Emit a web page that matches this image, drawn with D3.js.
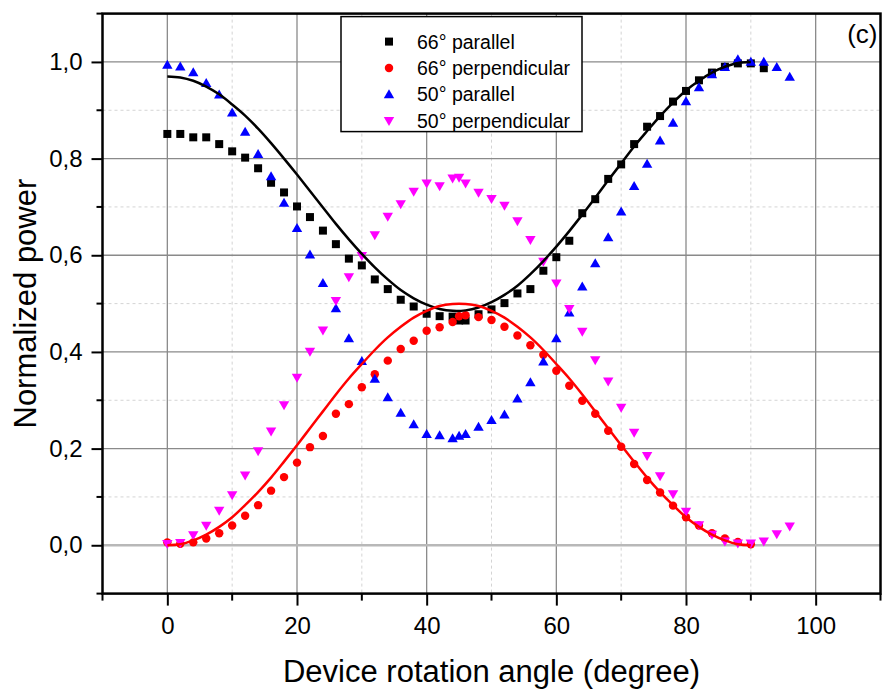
<!DOCTYPE html>
<html>
<head>
<meta charset="utf-8">
<script src="https://cdn.jsdelivr.net/npm/d3@7"></script>
<style>
  body { margin: 0; background: #fff; }
  svg { font-family: Arial, "Liberation Sans", sans-serif; }
</style>
</head>
<body>
<div class="chart"></div>
<script>
// measured angles (degree)
var angles = [0,2,4,6,8,10,12,14,16,18,20,22,24,26,28,30,32,34,36,38,40,42,44,45,46,48,50,52,54,56,58,60,62,64,66,68,70,72,74,76,78,80,82,84,86,88,90,92,94,96];

// normalized power per series (same order as angles, shorter where the series stops)
var par66 = [0.851,0.851,0.844,0.844,0.830,0.815,0.802,0.780,0.750,0.730,0.701,0.679,0.651,0.623,0.593,0.579,0.550,0.530,0.508,0.494,0.479,0.474,0.473,0.465,0.465,0.478,0.488,0.501,0.521,0.530,0.568,0.596,0.630,0.687,0.716,0.758,0.788,0.830,0.866,0.888,0.918,0.940,0.962,0.978,0.990,0.997,0.997,0.987];
var perp66 = [0.006,0.003,0.006,0.014,0.025,0.041,0.061,0.083,0.113,0.141,0.171,0.203,0.226,0.272,0.292,0.327,0.354,0.382,0.406,0.423,0.444,0.451,0.462,0.474,0.476,0.472,0.466,0.452,0.434,0.414,0.394,0.361,0.330,0.299,0.272,0.237,0.204,0.168,0.135,0.109,0.082,0.058,0.041,0.025,0.014,0.007,0.002];
var par50 = [0.994,0.990,0.978,0.956,0.932,0.895,0.855,0.809,0.763,0.708,0.656,0.601,0.542,0.490,0.428,0.381,0.344,0.306,0.274,0.250,0.230,0.227,0.221,0.226,0.230,0.245,0.259,0.270,0.303,0.337,0.380,0.428,0.481,0.535,0.583,0.637,0.690,0.743,0.789,0.837,0.874,0.918,0.947,0.974,0.989,1.005,1.000,1.000,0.989,0.969];
var perp50 = [0.003,0.005,0.021,0.041,0.072,0.104,0.145,0.195,0.236,0.290,0.347,0.401,0.445,0.506,0.555,0.599,0.642,0.680,0.706,0.732,0.749,0.743,0.759,0.761,0.749,0.730,0.717,0.703,0.671,0.632,0.587,0.542,0.489,0.442,0.383,0.339,0.285,0.233,0.185,0.143,0.106,0.070,0.042,0.022,0.008,0.004,0.004,0.008,0.023,0.039];

// fit curves
var fitAngles = [0,2,4,6,8,10,12,14,16,18,20,22,24,26,28,30,32,34,36,38,40,42,44,46,48,50,52,54,56,58,60,62,64,66,68,70,72,74,76,78,80,82,84,86,88,90];
var fitPar66 = [0.970,0.968,0.961,0.949,0.933,0.912,0.889,0.862,0.832,0.800,0.767,0.733,0.699,0.665,0.633,0.603,0.575,0.550,0.528,0.511,0.498,0.489,0.485,0.486,0.492,0.503,0.518,0.537,0.561,0.588,0.618,0.650,0.684,0.719,0.755,0.790,0.825,0.857,0.888,0.916,0.941,0.961,0.978,0.990,0.998,1.000];
var fitPerp66 = [0.000,0.002,0.010,0.022,0.038,0.058,0.083,0.110,0.140,0.173,0.207,0.242,0.277,0.312,0.345,0.375,0.404,0.430,0.452,0.471,0.485,0.495,0.499,0.499,0.495,0.485,0.471,0.452,0.430,0.404,0.375,0.345,0.312,0.277,0.242,0.207,0.173,0.140,0.110,0.083,0.058,0.038,0.022,0.010,0.002,0.000];

var xTicks = [0,20,40,60,80,100],
    xMinor = [-10,10,30,50,70,90,110],
    yTicks = [0,0.2,0.4,0.6,0.8,1.0],
    yMinor = [-0.1,0.1,0.3,0.5,0.7,0.9,1.1];

var series = [
  {name: "66\u00b0 parallel", values: par66, color: "#000000", shape: "square"},
  {name: "66\u00b0 perpendicular", values: perp66, color: "#ff0000", shape: "circle"},
  {name: "50\u00b0 parallel", values: par50, color: "#0000ff", shape: "up"},
  {name: "50\u00b0 perpendicular", values: perp50, color: "#ff00ff", shape: "down"}
];

var margin = {left: 102.5, top: 13.6, right: 2.5, bottom: 97.4},
    outerWidth = 883,
    outerHeight = 691,
    width = outerWidth - margin.left - margin.right,
    height = outerHeight - margin.top - margin.bottom;

var x = d3.scaleLinear().domain([-10, 110]).range([0, width]),
    y = d3.scaleLinear().domain([-0.1, 1.1]).range([height, 0]),
    fmt = function(d) { return d3.format(".1f")(d).replace(".", ","); };

var svg = d3.select(".chart").append("svg")
    .attr("width", outerWidth)
    .attr("height", outerHeight)
  .append("g")
    .attr("transform", "translate(" + margin.left + "," + margin.top + ")");

// grid
svg.selectAll(".vminor").data(xMinor.slice(1, -1)).enter().append("line")
    .attr("x1", x).attr("x2", x).attr("y1", 0).attr("y2", height)
    .attr("stroke", "#d4d4d4").attr("stroke-width", 1).attr("stroke-dasharray", "3,3");
svg.selectAll(".hminor").data(yMinor.slice(1, -1)).enter().append("line")
    .attr("y1", y).attr("y2", y).attr("x1", 0).attr("x2", width)
    .attr("stroke", "#d4d4d4").attr("stroke-width", 1).attr("stroke-dasharray", "3,3");
svg.selectAll(".vmajor").data(xTicks).enter().append("line")
    .attr("x1", x).attr("x2", x).attr("y1", 0).attr("y2", height)
    .attr("stroke", "#8a8a8a").attr("stroke-width", 1.3);
svg.selectAll(".hmajor").data(yTicks.slice(1)).enter().append("line")
    .attr("y1", y).attr("y2", y).attr("x1", 0).attr("x2", width)
    .attr("stroke", "#8a8a8a").attr("stroke-width", 1.3);
// zero line
svg.append("line")
    .attr("x1", 0).attr("x2", width).attr("y1", y(0)).attr("y2", y(0))
    .attr("stroke", "#b8b8b8").attr("stroke-width", 2.5);

// markers
function symbolPath(shape) {
  if (shape === "square") return d3.symbol().type(d3.symbolSquare).size(64)();
  if (shape === "circle") return d3.symbol().type(d3.symbolCircle).size(56)();
  if (shape === "up") return "M0,-5.2L5.2,3.8L-5.2,3.8Z";
  return "M0,5.2L5.2,-3.8L-5.2,-3.8Z";
}

series.forEach(function(s) {
  svg.append("g").selectAll("path")
      .data(s.values)
    .enter().append("path")
      .attr("d", symbolPath(s.shape))
      .attr("fill", s.color)
      .attr("transform", function(d, i) { return "translate(" + x(angles[i]) + "," + y(d) + ")"; });
});

// fit lines
var line = d3.line()
    .x(function(d, i) { return x(fitAngles[i]); })
    .y(function(d) { return y(d); })
    .curve(d3.curveCatmullRom);

svg.append("path").datum(fitPar66)
    .attr("d", line).attr("fill", "none").attr("stroke", "#000").attr("stroke-width", 2.5);
svg.append("path").datum(fitPerp66)
    .attr("d", line).attr("fill", "none").attr("stroke", "#ff0000").attr("stroke-width", 2.5);

// axes
var xAxis = svg.append("g").attr("transform", "translate(0," + height + ")");
xAxis.call(d3.axisBottom(x).tickValues(xTicks).tickSize(12).tickSizeOuter(0).tickPadding(11).tickFormat(d3.format("d")));
xAxis.selectAll(".tick line").attr("stroke-width", 2);
xAxis.selectAll(".tick text").attr("font-size", 24).attr("font-family", "Arial, Liberation Sans");
xAxis.select(".domain").remove();
xAxis.selectAll(".mtick").data(xMinor).enter().append("line")
    .attr("x1", x).attr("x2", x).attr("y1", 0).attr("y2", 7)
    .attr("stroke", "#000").attr("stroke-width", 2);

var yAxis = svg.append("g");
yAxis.call(d3.axisLeft(y).tickValues(yTicks).tickSize(11).tickSizeOuter(0).tickPadding(9).tickFormat(fmt));
yAxis.selectAll(".tick line").attr("stroke-width", 2);
yAxis.selectAll(".tick text").attr("font-size", 24).attr("font-family", "Arial, Liberation Sans");
yAxis.select(".domain").remove();
yAxis.selectAll(".mtick").data(yMinor).enter().append("line")
    .attr("y1", y).attr("y2", y).attr("x1", 0).attr("x2", -6)
    .attr("stroke", "#000").attr("stroke-width", 2);

// frame
svg.append("rect")
    .attr("width", width).attr("height", height)
    .attr("fill", "none").attr("stroke", "#000").attr("stroke-width", 2.5);

// axis titles
svg.append("text")
    .attr("x", width / 2).attr("y", height + 88)
    .attr("text-anchor", "middle").attr("font-size", 31)
    .text("Device rotation angle (degree)");
svg.append("text")
    .attr("transform", "translate(" + (-67) + "," + (height / 2) + ")rotate(-90)")
    .attr("text-anchor", "middle").attr("font-size", 31)
    .text("Normalized power");

svg.append("text")
    .attr("x", width - 3).attr("y", 29)
    .attr("text-anchor", "end").attr("font-size", 26)
    .text("(c)");

// legend
var legend = svg.append("g").attr("transform", "translate(238.5,3)");
legend.append("rect")
    .attr("width", 241).attr("height", 115)
    .attr("fill", "#fff").attr("stroke", "#000").attr("stroke-width", 1.5);
var item = legend.selectAll(".item").data(series).enter().append("g")
    .attr("transform", function(d, i) { return "translate(0," + (25 + i * 26.4) + ")"; });
item.append("path")
    .attr("d", function(d) { return symbolPath(d.shape); })
    .attr("fill", function(d) { return d.color; })
    .attr("transform", "translate(48,0)");
item.append("text")
    .attr("x", 76).attr("y", 7)
    .attr("font-size", 19.5)
    .text(function(d) { return d.name; });
</script>
</body>
</html>
